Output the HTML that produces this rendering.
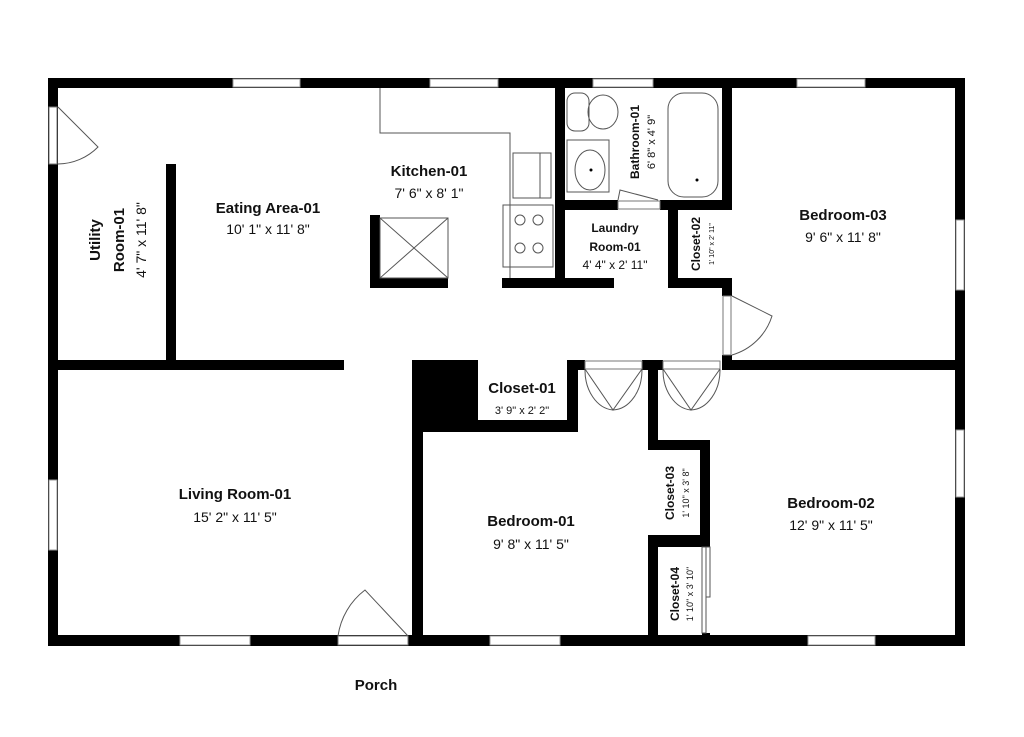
<!DOCTYPE html>
<html><head><meta charset="utf-8"><style>
html,body{margin:0;padding:0;background:#fff}
svg{display:block}
text{font-family:"Liberation Sans",Arial,sans-serif;fill:#111}
.n{font-weight:bold;font-size:15px}
.d{font-size:14px}
.s{font-size:9px}
.sn{font-weight:bold;font-size:12px}
</style></head><body>
<svg width="1024" height="737" viewBox="0 0 1024 737" xmlns="http://www.w3.org/2000/svg">
<g fill="#000">
<!-- outer walls -->
<rect x="48" y="78" width="917" height="10"/>
<rect x="48" y="635" width="917" height="11"/>
<rect x="48" y="78" width="10" height="568"/>
<rect x="955" y="78" width="10" height="568"/>
<!-- utility -->
<rect x="166" y="164" width="10" height="206"/>
<rect x="58" y="360" width="286" height="10"/>
<!-- kitchen island -->
<rect x="370" y="215" width="10" height="73"/>
<rect x="370" y="278" width="78" height="10"/>
<!-- bath/laundry -->
<rect x="555" y="88" width="10" height="200"/>
<rect x="502" y="278" width="112" height="10"/>
<rect x="565" y="200" width="53" height="10"/>
<rect x="660" y="200" width="72" height="10"/>
<rect x="722" y="88" width="10" height="122"/>
<rect x="668" y="210" width="10" height="78"/>
<rect x="668" y="278" width="64" height="10"/>
<rect x="722" y="278" width="10" height="18"/>
<rect x="722" y="355" width="10" height="15"/>
<rect x="722" y="360" width="233" height="10"/>
<!-- closet-01 -->
<rect x="412" y="360" width="66" height="72"/>
<rect x="412" y="360" width="11" height="286"/>
<rect x="412" y="420" width="166" height="12"/>
<rect x="567" y="360" width="11" height="72"/>
<rect x="567" y="360" width="18" height="10"/>
<rect x="642" y="360" width="21" height="10"/>
<!-- bedroom-02 left -->
<rect x="648" y="360" width="10" height="90"/>
<rect x="648" y="440" width="62" height="10"/>
<rect x="700" y="440" width="10" height="107"/>
<rect x="648" y="535" width="62" height="12"/>
<rect x="648" y="535" width="10" height="110"/>
<rect x="702" y="633" width="8" height="4"/>
</g>
<!-- windows -->
<g fill="#fff" stroke="#999" stroke-width="1">
<rect x="233" y="79" width="67" height="8"/>
<rect x="430" y="79" width="68" height="8"/>
<rect x="593" y="79" width="60" height="8"/>
<rect x="797" y="79" width="68" height="8"/>
<rect x="49" y="480" width="8" height="70"/>
<rect x="956" y="220" width="8" height="70"/>
<rect x="956" y="430" width="8" height="67"/>
<rect x="180" y="636" width="70" height="9"/>
<rect x="490" y="636" width="70" height="9"/>
<rect x="808" y="636" width="67" height="9"/>
</g>
<!-- door openings -->
<g fill="#fff" stroke="#777" stroke-width="1">
<rect x="49" y="107" width="8" height="57"/>
<rect x="338" y="636" width="70" height="9"/>
<rect x="723" y="296" width="8" height="59"/>
<rect x="585" y="361" width="57" height="8"/>
<rect x="663" y="361" width="57" height="8"/>
<rect x="618" y="201" width="42" height="8"/>
</g>
<g fill="none" stroke="#555" stroke-width="1">
<path d="M58 107 L98 147 A57 57 0 0 1 58 164"/>
<path d="M408 636 L365 590 A70 70 0 0 0 338 636"/>
<path d="M732 296 L772 316 A59 59 0 0 1 732 355"/>
<path d="M585 369 L613 410 L642 369"/>
<path d="M585 369 A30 40 0 0 0 613 410 A30 40 0 0 0 642 369"/>
<path d="M663 369 L691 410 L720 369"/>
<path d="M663 369 A30 40 0 0 0 691 410 A30 40 0 0 0 720 369"/>
<path d="M618 200 L620 190 L658 200"/>
<!-- kitchen counter -->
<path d="M380 88 V133 H510 V278"/>
<rect x="513" y="153" width="38" height="45"/>
<line x1="540" y1="153" x2="540" y2="198"/>
<rect x="503" y="205" width="50" height="62"/>
<circle cx="520" cy="220" r="5"/><circle cx="538" cy="220" r="5"/>
<circle cx="520" cy="248" r="5"/><circle cx="538" cy="248" r="5"/>
<!-- island -->
<rect x="380" y="218" width="68" height="60"/>
<path d="M380 218 L448 278 M448 218 L380 278"/>
<!-- bath -->
<rect x="567" y="93" width="22" height="38" rx="8"/>
<ellipse cx="603" cy="112" rx="15" ry="17"/>
<rect x="567" y="140" width="42" height="52"/>
<ellipse cx="590" cy="170" rx="15" ry="20"/>
<rect x="668" y="93" width="50" height="104" rx="16"/>
<!-- closet-04 sliding -->
<rect x="702" y="547" width="4" height="86"/>
<rect x="706" y="547" width="4" height="50"/>
</g>
<circle cx="697" cy="180" r="1.5" fill="#000"/>
<circle cx="591" cy="170" r="1.5" fill="#000"/>
<!-- labels -->
<g text-anchor="middle">
<text class="n" x="429" y="176">Kitchen-01</text>
<text class="d" x="429" y="198">7' 6" x 8' 1"</text>
<text class="n" x="268" y="213">Eating Area-01</text>
<text class="d" x="268" y="234">10' 1" x 11' 8"</text>
<text class="n" x="235" y="499">Living Room-01</text>
<text class="d" x="235" y="522">15' 2" x 11' 5"</text>
<text class="n" x="531" y="526">Bedroom-01</text>
<text class="d" x="531" y="549">9' 8" x 11' 5"</text>
<text class="n" x="831" y="508">Bedroom-02</text>
<text class="d" x="831" y="530">12' 9" x 11' 5"</text>
<text class="n" x="843" y="220">Bedroom-03</text>
<text class="d" x="843" y="242">9' 6" x 11' 8"</text>
<text class="n" x="522" y="393">Closet-01</text>
<text class="s" x="522" y="414" style="font-size:11px">3' 9" x 2' 2"</text>
<text class="sn" x="615" y="232">Laundry</text>
<text class="sn" x="615" y="251">Room-01</text>
<text class="d" x="615" y="269" style="font-size:12px">4' 4" x 2' 11"</text>
<text class="n" x="376" y="690">Porch</text>
</g>
<g text-anchor="middle">
<text class="n" transform="translate(100 240) rotate(-90)">Utility</text>
<text class="n" transform="translate(124 240) rotate(-90)">Room-01</text>
<text class="d" transform="translate(146 240) rotate(-90)">4' 7" x 11' 8"</text>
<text class="sn" transform="translate(639 142) rotate(-90)">Bathroom-01</text>
<text class="d" style="font-size:11px" transform="translate(655 142) rotate(-90)">6' 8" x 4' 9"</text>
<text class="sn" transform="translate(700 244) rotate(-90)">Closet-02</text>
<text class="s" style="font-size:7px" transform="translate(714 244) rotate(-90)">1' 10" x 2' 11"</text>
<text class="sn" transform="translate(674 493) rotate(-90)">Closet-03</text>
<text class="s" transform="translate(689 493) rotate(-90)">1' 10" x 3' 8"</text>
<text class="sn" transform="translate(679 594) rotate(-90)">Closet-04</text>
<text class="s" transform="translate(693 594) rotate(-90)">1' 10" x 3' 10"</text>
</g>
</svg>
</body></html>
